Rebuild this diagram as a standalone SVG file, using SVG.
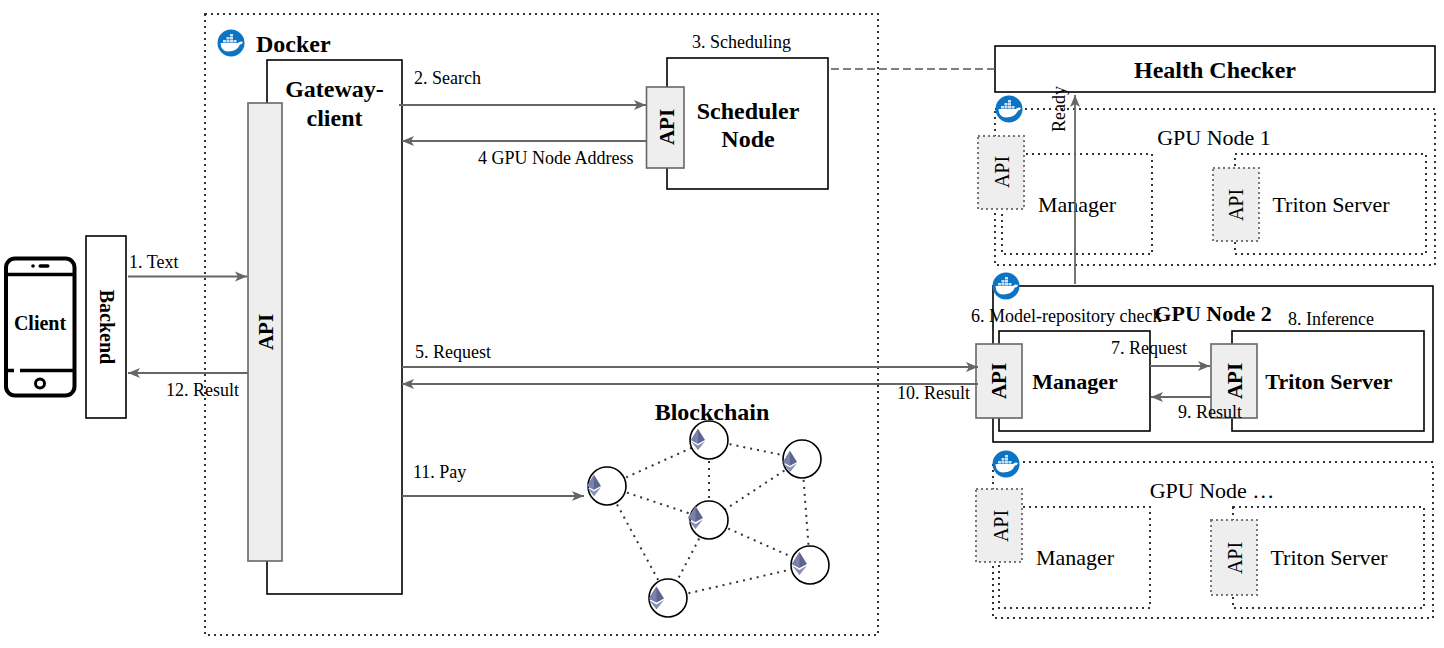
<svg xmlns="http://www.w3.org/2000/svg" xmlns:xlink="http://www.w3.org/1999/xlink" width="1444" height="648" viewBox="0 0 1444 648">
<style>
text{font-family:"Liberation Serif","Times New Roman",serif;fill:#000}
.t{font-size:18px}
.m{font-size:22px}
.b{font-size:24px;font-weight:bold}
.b2{font-size:22px;font-weight:bold}
.mid{text-anchor:middle}
.box{fill:#fff;stroke:#000;stroke-width:1.6}
.dot{fill:none;stroke:#333;stroke-width:2;stroke-dasharray:2 4}
.api{fill:#eee;stroke:#666;stroke-width:1.6}
.apid{fill:#eee;stroke:#777;stroke-width:2;stroke-dasharray:2 3}
.c{fill:none;stroke:#666;stroke-width:1.8}
.l{stroke:#333;stroke-width:2;stroke-dasharray:2 5;fill:none}
.n{fill:#fff;stroke:#000;stroke-width:1.6}
.al{font-size:20px}
.ab{font-size:21px;font-weight:bold}
</style>
<defs>
<marker id="a" markerWidth="14" markerHeight="12" refX="12" refY="5" orient="auto" markerUnits="userSpaceOnUse" viewBox="0 0 14 10"><path d="M0 0L12 5L0 10L3 5Z" fill="#666"/></marker>
<symbol id="docker" viewBox="0 0 28 28" overflow="visible">
<circle cx="14" cy="14" r="13.500" fill="#0b74c4"/>
<path d="M3.500 14H21Q23 11.500 26 13Q25 15.500 23 15.500Q20 22.500 11 22.500Q4 22.500 3.500 14Z" fill="#fff"/>
<path d="M6 11h3v2.500H6zM9.500 11h3v2.500h-3zM13 11h3v2.500h-3zM16.500 11h3v2.500h-3zM9.500 8h3v2.500h-3zM13 8h3v2.500h-3zM13 5h3v2.500h-3z" fill="#cfe3f4"/>
</symbol>
<symbol id="eth" viewBox="0 0 15 23" overflow="visible">
<path d="M7.500 0L15 12L7.500 16L0 12Z" fill="#5d6591"/>
<path d="M7.500 0V16L0 12Z" fill="#7a82ab"/>
<path d="M0 13.500L7.500 18L15 13.500L7.500 23Z" fill="#8a90b4"/>
</symbol>
</defs>

<g id="docker-zone">
<rect class="dot" x="205" y="14" width="673" height="621"/>
<circle cx="231" cy="43" r="14" fill="#fff"/>
<use xlink:href="#docker" href="#docker" x="217" y="29" width="28" height="28"/>
<text x="256" y="52" class="b">Docker</text>
</g>

<g id="client">
<rect x="6" y="258.500" width="68.500" height="137" rx="9" fill="#fff" stroke="#000" stroke-width="4"/>
<path d="M6 274.500H74M6 370.500H14M20 370.500H74" stroke="#000" stroke-width="3.500" fill="none"/>
<circle cx="33" cy="266" r="1.800" fill="#000"/>
<rect x="38.500" y="264.300" width="11" height="3.400" rx="1.700" fill="#000"/>
<circle cx="40" cy="383.500" r="4.500" fill="#fff" stroke="#000" stroke-width="3"/>
<text x="40" y="329.500" class="mid" style="font-size:20px;font-weight:bold">Client</text>
</g>

<g id="backend">
<rect class="box" x="86" y="236" width="40" height="182"/>
<text transform="translate(100,327) rotate(90)" class="mid" style="font-size:20px;font-weight:bold">Backend</text>
</g>

<g id="gateway">
<rect class="box" x="267" y="60" width="135" height="534"/>
<text x="334.500" y="97" class="b mid">Gateway-</text>
<text x="334.500" y="126" class="b mid">client</text>
<rect class="api" x="248" y="103" width="34" height="458"/>
<text transform="translate(273,332) rotate(-90)" class="mid ab">API</text>
</g>

<g id="scheduler">
<rect class="box" x="667" y="58" width="161" height="131"/>
<rect class="api" x="646.500" y="87" width="37.500" height="81"/>
<text transform="translate(674,127) rotate(-90)" class="mid ab">API</text>
<text x="748" y="119" class="b mid">Scheduler</text>
<text x="748" y="147" class="b mid">Node</text>
</g>

<g id="health-checker">
<rect class="box" x="995" y="46" width="440" height="46"/>
<text x="1215" y="78" class="b mid">Health Checker</text>
</g>

<g id="gpu-node-1">
<rect class="dot" x="995" y="109" width="440" height="156"/>
<rect class="dot" x="1002" y="154" width="150" height="100"/>
<rect class="dot" x="1235" y="154" width="191" height="100"/>
<use xlink:href="#docker" href="#docker" x="995" y="95" width="28" height="28"/>
<rect class="apid" x="978" y="136" width="46" height="73"/>
<text transform="translate(1009,172) rotate(-90)" class="mid al">API</text>
<rect class="apid" x="1213" y="168" width="46" height="73"/>
<text transform="translate(1243,205) rotate(-90)" class="mid al">API</text>
<text x="1214" y="145" class="m mid">GPU Node 1</text>
<text x="1077" y="212" class="m mid">Manager</text>
<text x="1331" y="212" class="m mid">Triton Server</text>
</g>

<g id="gpu-node-2">
<rect class="box" x="993" y="286" width="440" height="156"/>
<rect class="box" x="999" y="331" width="151" height="100"/>
<rect class="box" x="1232" y="331" width="192" height="100"/>
<use xlink:href="#docker" href="#docker" x="992" y="272" width="28" height="28"/>
<rect class="api" x="976" y="344" width="46" height="74"/>
<text transform="translate(1006,381) rotate(-90)" class="mid ab">API</text>
<rect class="api" x="1211" y="344" width="46" height="74"/>
<text transform="translate(1242,381) rotate(-90)" class="mid ab">API</text>
<text x="1213" y="321" class="b2 mid">GPU Node 2</text>
<text x="1075" y="389" class="b2 mid">Manager</text>
<text x="1329" y="389" class="b2 mid">Triton Server</text>
</g>

<g id="gpu-node-n">
<rect class="dot" x="993" y="462" width="440" height="156"/>
<rect class="dot" x="999" y="507" width="151" height="101"/>
<rect class="dot" x="1233" y="507" width="191" height="101"/>
<use xlink:href="#docker" href="#docker" x="992" y="450" width="28" height="28"/>
<rect class="apid" x="976" y="489" width="46" height="73"/>
<text transform="translate(1008,526) rotate(-90)" class="mid al">API</text>
<rect class="apid" x="1211" y="520" width="46" height="75"/>
<text transform="translate(1242,558) rotate(-90)" class="mid al">API</text>
<text x="1212" y="498" class="m mid">GPU Node …</text>
<text x="1075" y="565" class="m mid">Manager</text>
<text x="1329" y="565" class="m mid">Triton Server</text>
</g>

<g id="blockchain">
<text x="712" y="420" class="b mid">Blockchain</text>
<path class="l" d="M607 486L709 440M607 486L709 520M607 486L668 598M709 440L802 459M709 440V520M802 459L709 520M802 459L810 565M709 520L810 565M709 520L668 598M668 598L810 565"/>
<circle class="n" cx="607" cy="486" r="19"/>
<circle class="n" cx="709" cy="440" r="19"/>
<circle class="n" cx="802" cy="459" r="19"/>
<circle class="n" cx="709" cy="520" r="19"/>
<circle class="n" cx="810" cy="565" r="19"/>
<circle class="n" cx="668" cy="598" r="19"/>
<use xlink:href="#eth" href="#eth" x="587" y="474" width="14" height="23"/>
<use xlink:href="#eth" href="#eth" x="691" y="428" width="14" height="23"/>
<use xlink:href="#eth" href="#eth" x="783" y="450" width="14" height="23"/>
<use xlink:href="#eth" href="#eth" x="688" y="506" width="15" height="23"/>
<use xlink:href="#eth" href="#eth" x="792" y="552" width="15" height="23"/>
<use xlink:href="#eth" href="#eth" x="649" y="586" width="15" height="24"/>
</g>

<g id="connectors">
<path class="c" marker-end="url(#a)" d="M128 276.500H247"/>
<path class="c" marker-end="url(#a)" d="M248 373H128"/>
<path class="c" marker-end="url(#a)" d="M399 105H646"/>
<path class="c" marker-end="url(#a)" d="M647 141H402"/>
<path class="c" marker-end="url(#a)" d="M402 367H978"/>
<path class="c" marker-end="url(#a)" d="M978 384H402"/>
<path class="c" marker-end="url(#a)" d="M402 496H584"/>
<path class="c" marker-end="url(#a)" d="M1150 366H1210"/>
<path class="c" marker-end="url(#a)" d="M1211 397H1151"/>
<path class="c" marker-end="url(#a)" d="M1075 284V95"/>
<path d="M831 69H995" fill="none" stroke="#555" stroke-width="1.600" stroke-dasharray="8 4"/>
</g>

<g id="connector-labels">
<text x="129" y="268" class="t">1. Text</text>
<text x="166" y="396" class="t">12. Result</text>
<text x="414" y="84" class="t">2. Search</text>
<text x="692" y="48" class="t">3. Scheduling</text>
<text x="478" y="164" class="t">4 GPU Node Address</text>
<text x="415" y="358" class="t">5. Request</text>
<text x="897" y="399" class="t">10. Result</text>
<text x="413" y="478" class="t">11. Pay</text>
<text x="971" y="322" class="t">6. Model-repository check</text>
<text x="1111" y="354" class="t">7. Request</text>
<text x="1288" y="325" class="t">8. Inference</text>
<text x="1178" y="418" class="t">9. Result</text>
<text transform="translate(1065,132) rotate(-90)" class="t">Ready</text>
</g>
</svg>
